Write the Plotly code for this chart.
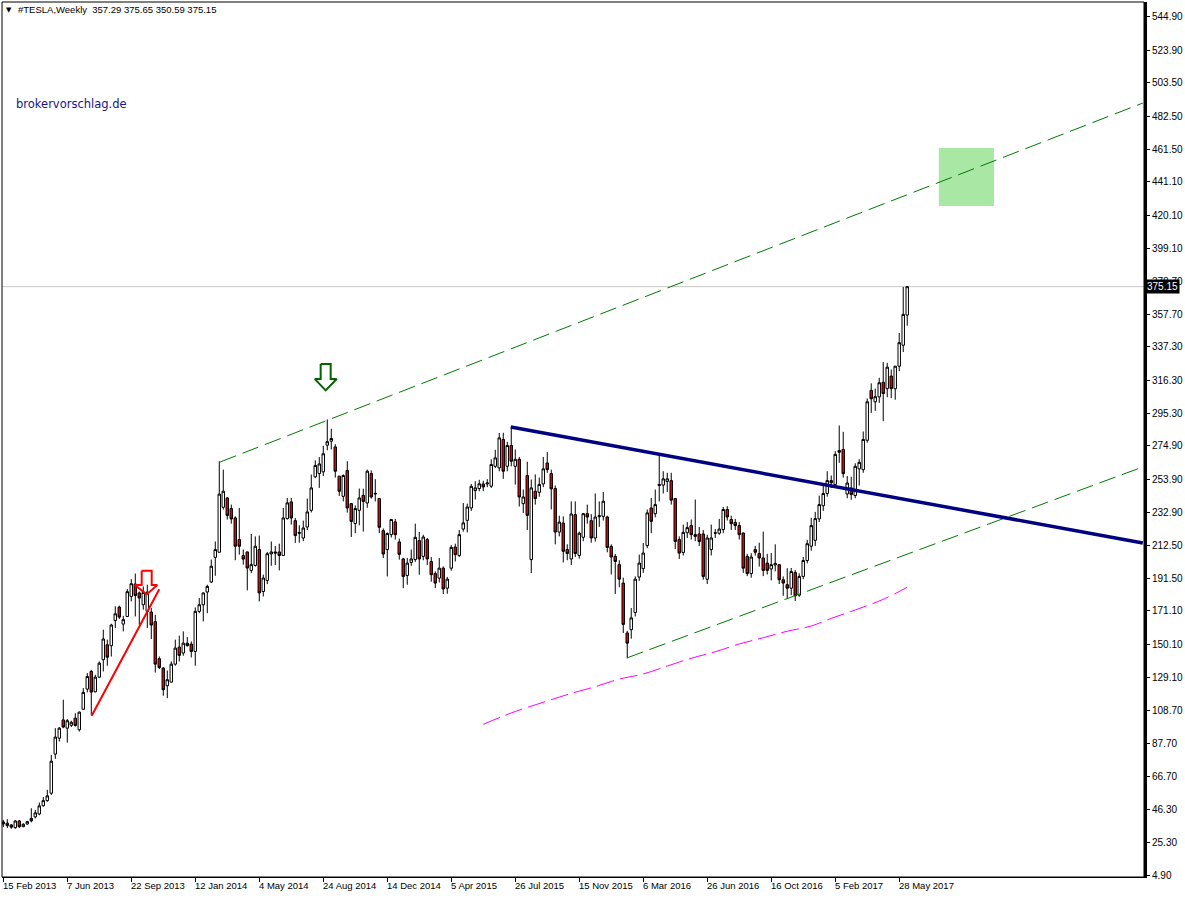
import plotly.graph_objects as go

# ---------------- data ----------------
date_labels = ["15 Feb 2013", "7 Jun 2013", "22 Sep 2013", "12 Jan 2014", "4 May 2014",
               "24 Aug 2014", "14 Dec 2014", "5 Apr 2015", "26 Jul 2015", "15 Nov 2015",
               "6 Mar 2016", "26 Jun 2016", "16 Oct 2016", "5 Feb 2017", "28 May 2017"]
date_label_bars = [0, 16, 32, 48, 64, 80, 96, 112, 128, 144, 160, 176, 192, 208, 224]

price_ticks = [4.9, 25.3, 46.3, 66.7, 87.7, 108.7, 129.1, 150.1, 171.1, 191.5, 212.5, 232.9,
               253.9, 274.9, 295.3, 316.3, 337.3, 357.7, 378.7, 399.1, 420.1, 441.1, 461.5,
               482.5, 503.5, 523.9, 544.9]

opens = [38.3, 37.5, 36.4, 34.7, 38.9, 35.3, 37.0, 40.5, 41.5, 43.3,
         48.5, 51.7, 56.4, 81.0, 91.0, 102.5, 97.3, 99.1, 103.6, 96.3,
         109.2, 121.9, 133.0, 120.2, 129.4, 140.4, 149.8, 149.2, 165.1, 173.5,
         162.8, 167.6, 180.2, 188.0, 182.4, 175.0, 170.8, 170.4, 164.3, 141.0,
         135.1, 124.0, 126.3, 137.6, 148.3, 144.6, 150.8, 150.2, 145.6, 170.8,
         175.0, 183.0, 189.3, 204.8, 208.0, 236.3, 242.2, 235.5, 229.6, 216.0,
         205.9, 208.2, 196.6, 199.7, 209.7, 183.3, 190.3, 207.0, 208.2, 208.2,
         206.0, 229.2, 239.7, 227.9, 220.5, 217.0, 223.9, 234.4, 255.5, 257.5,
         258.6, 275.4, 277.9, 274.3, 255.9, 243.2, 259.4, 238.6, 226.1, 234.4,
         243.8, 239.0, 257.5, 245.1, 241.8, 221.6, 209.7, 219.1, 227.1, 214.5,
         203.8, 193.4, 201.6, 203.4, 215.3, 205.4, 216.0, 202.2, 194.6, 191.7,
         198.0, 185.4, 198.0, 211.3, 206.0, 222.6, 228.1, 235.9, 246.8, 248.1,
         251.0, 251.0, 249.6, 262.1, 261.1, 279.0, 262.1, 275.2, 262.1, 266.5,
         238.6, 256.3, 203.4, 246.4, 245.7, 251.0, 264.2, 257.5, 248.1, 220.7,
         226.4, 209.7, 203.8, 231.7, 206.0, 217.4, 232.3, 227.9, 217.0, 230.4,
         230.6, 230.2, 211.7, 205.4, 200.2, 188.6, 157.2, 159.3, 170.1, 192.4,
         197.7, 212.2, 235.9, 232.3, 250.7, 250.3, 252.5, 253.1, 241.8, 216.0,
         207.9, 220.3, 224.8, 219.1, 219.5, 219.5, 191.0, 209.7, 220.3, 220.0,
         222.3, 234.9, 228.6, 226.8, 224.8, 220.1, 205.4, 194.6, 209.7, 207.2,
         204.4, 201.2, 197.5, 200.0, 200.2, 190.7, 187.6, 185.4, 195.3, 181.0,
         192.8, 202.8, 211.8, 215.5, 229.0, 237.3, 245.0, 253.1, 250.7, 272.0,
         272.7, 244.7, 248.5, 243.7, 260.5, 260.0, 278.5, 309.9, 302.7, 305.8,
         315.0, 311.0, 318.9, 310.9, 325.1, 338.3, 357.29]

highs = [39.6, 40.0, 37.0, 39.5, 39.5, 37.5, 39.0, 46.9, 45.8, 50.5,
         53.9, 58.5, 80.5, 97.3, 98.0, 115.2, 103.0, 102.0, 106.7, 107.8,
         122.5, 132.0, 134.0, 130.9, 139.3, 159.3, 153.0, 163.0, 174.0, 174.4,
         168.0, 184.9, 191.1, 194.6, 183.3, 186.5, 187.6, 172.9, 168.7, 142.4,
         135.7, 133.6, 139.3, 153.0, 155.5, 158.2, 154.6, 151.9, 173.3, 179.2,
         182.7, 187.6, 203.4, 214.8, 265.3, 260.0, 242.6, 238.0, 230.6, 235.9,
         209.7, 208.5, 219.5, 218.0, 218.5, 193.9, 208.2, 214.8, 212.0, 213.4,
         235.9, 242.2, 242.2, 229.6, 225.0, 227.9, 241.8, 256.9, 265.8, 267.9,
         275.0, 291.6, 285.7, 276.0, 256.0, 257.0, 265.3, 239.0, 237.5, 248.1,
         248.0, 260.0, 259.5, 254.0, 242.2, 223.0, 220.5, 229.0, 229.0, 216.6,
         204.5, 204.4, 209.7, 226.0, 220.8, 219.0, 217.0, 205.0, 196.0, 204.4,
         199.1, 192.5, 212.5, 213.4, 222.0, 239.0, 238.6, 251.0, 252.7, 253.6,
         253.0, 254.0, 266.5, 272.5, 283.1, 283.2, 277.5, 287.3, 272.7, 268.0,
         247.5, 265.0, 253.8, 257.0, 255.0, 268.0, 271.0, 260.0, 250.0, 231.0,
         230.6, 213.0, 240.0, 240.0, 221.0, 232.7, 238.0, 232.0, 245.0, 240.0,
         246.0, 231.0, 213.0, 207.0, 203.0, 192.0, 158.6, 172.9, 192.8, 206.5,
         213.8, 234.9, 242.2, 247.5, 269.6, 259.0, 258.0, 258.0, 242.0, 218.0,
         225.4, 227.0, 228.6, 241.2, 224.0, 222.0, 219.0, 225.4, 222.6, 229.0,
         236.5, 237.0, 231.0, 229.0, 227.0, 220.5, 207.0, 207.4, 212.0, 214.0,
         221.0, 207.0, 207.5, 213.0, 200.5, 192.8, 198.0, 198.1, 196.9, 194.7,
         205.0, 215.8, 229.7, 233.4, 243.6, 250.0, 259.0, 256.3, 271.6, 287.8,
         283.8, 256.0, 255.5, 264.0, 266.5, 284.0, 304.8, 314.3, 311.0, 317.8,
         327.7, 327.2, 323.0, 325.3, 346.0, 375.0, 375.65]

lows = [35.1, 34.5, 34.0, 34.0, 34.5, 35.0, 36.5, 38.0, 40.5, 42.5,
        47.9, 51.0, 55.3, 78.0, 88.9, 97.3, 88.2, 98.0, 98.3, 95.2,
        108.8, 119.8, 105.3, 119.8, 128.8, 133.0, 136.6, 142.4, 160.3, 166.0,
        158.2, 167.2, 177.1, 167.6, 162.4, 171.9, 160.3, 153.4, 132.3, 134.5,
        117.7, 116.2, 126.0, 136.6, 139.3, 142.9, 148.7, 141.8, 136.6, 169.7,
        164.5, 169.7, 188.6, 193.2, 208.0, 234.9, 228.6, 226.0, 203.0, 206.5,
        200.2, 184.0, 194.9, 199.0, 177.1, 180.2, 188.0, 199.5, 200.0, 196.6,
        206.0, 228.6, 225.4, 213.9, 214.0, 215.0, 222.0, 233.1, 254.6, 248.5,
        256.0, 272.2, 272.7, 255.0, 243.5, 240.0, 233.0, 217.6, 220.0, 225.0,
        221.0, 236.0, 241.8, 240.0, 220.0, 204.4, 192.8, 217.3, 216.0, 203.4,
        185.4, 187.6, 199.5, 202.0, 193.9, 203.0, 200.0, 189.5, 185.4, 189.0,
        181.7, 181.9, 196.4, 202.2, 205.0, 221.0, 220.5, 234.0, 241.2, 246.4,
        246.5, 249.0, 248.5, 261.0, 259.0, 254.2, 259.0, 262.1, 250.6, 236.8,
        232.7, 222.0, 194.9, 238.0, 243.0, 249.0, 258.0, 235.0, 213.0, 218.0,
        201.6, 203.0, 200.0, 205.0, 204.0, 215.0, 226.0, 214.0, 214.8, 224.0,
        228.0, 208.0, 194.0, 181.8, 186.0, 157.2, 141.3, 153.6, 167.6, 190.0,
        195.0, 210.6, 220.0, 230.0, 240.0, 245.0, 246.0, 238.0, 210.0, 203.8,
        206.0, 217.0, 216.0, 215.0, 212.0, 190.7, 188.0, 206.0, 217.0, 219.0,
        220.0, 228.0, 222.0, 222.0, 216.0, 195.0, 193.0, 192.0, 205.9, 199.0,
        193.0, 194.0, 190.3, 196.0, 188.0, 180.6, 178.5, 181.0, 177.3, 180.0,
        191.0, 201.0, 209.0, 212.0, 227.0, 234.0, 243.0, 248.5, 249.0, 264.3,
        255.0, 242.0, 241.0, 242.0, 250.0, 258.0, 277.0, 295.7, 297.0, 302.0,
        290.5, 305.6, 305.0, 304.0, 322.0, 334.0, 350.59]

closes = [37.0, 36.0, 35.0, 38.9, 35.3, 36.8, 38.5, 39.0, 44.0, 48.4,
          51.7, 54.7, 76.5, 91.7, 97.3, 98.0, 102.0, 101.0, 99.0, 107.4,
          119.8, 129.8, 120.0, 129.4, 138.2, 153.4, 142.0, 162.2, 169.3, 167.2,
          165.6, 183.2, 188.2, 180.8, 179.2, 182.7, 182.9, 162.2, 137.6, 135.5,
          121.5, 127.8, 137.6, 147.7, 143.1, 150.8, 149.2, 145.6, 170.8, 175.0,
          182.4, 186.5, 199.2, 209.7, 244.6, 246.4, 231.2, 229.0, 211.8, 211.8,
          203.7, 198.1, 200.2, 211.8, 182.4, 191.8, 207.1, 208.2, 207.5, 206.0,
          229.6, 239.1, 229.6, 218.5, 220.0, 223.3, 233.4, 248.5, 262.6, 263.6,
          270.0, 277.6, 279.6, 259.0, 246.4, 256.3, 235.9, 227.4, 235.5, 242.2,
          240.0, 259.0, 242.8, 244.8, 223.7, 206.9, 219.8, 228.6, 219.1, 206.7,
          192.8, 201.2, 203.8, 217.4, 203.8, 217.6, 203.8, 193.9, 188.6, 198.0,
          184.9, 191.1, 211.1, 206.5, 219.1, 226.5, 236.5, 249.5, 248.5, 251.1,
          249.1, 251.6, 263.2, 267.4, 280.0, 259.0, 275.2, 265.3, 266.5, 242.8,
          242.8, 231.2, 248.5, 241.8, 250.7, 260.5, 260.0, 247.9, 220.7, 227.0,
          208.6, 207.2, 232.1, 207.2, 220.0, 232.3, 230.2, 217.0, 230.2, 231.0,
          240.1, 211.0, 205.0, 202.2, 191.1, 162.6, 150.8, 166.7, 191.1, 201.2,
          207.5, 232.8, 227.5, 238.0, 250.0, 254.2, 254.2, 240.8, 214.8, 207.5,
          220.5, 223.5, 219.1, 218.0, 214.8, 192.8, 217.0, 217.0, 220.0, 222.6,
          234.9, 230.2, 226.0, 224.8, 219.1, 198.0, 194.6, 205.0, 208.0, 204.4,
          196.6, 196.6, 200.2, 201.0, 190.7, 188.6, 185.4, 195.9, 180.6, 192.8,
          202.8, 213.4, 224.8, 229.2, 238.0, 245.0, 253.1, 251.8, 269.6, 271.0,
          257.5, 251.6, 244.3, 262.1, 264.6, 279.0, 302.7, 304.6, 305.9, 314.7,
          307.9, 324.5, 311.0, 325.1, 339.9, 357.7, 375.15]

# moving average (magenta dashed)
ma_bars = [120, 127, 136, 142, 148, 154, 160, 166, 172, 178, 184, 190, 196, 202, 207, 213, 220, 226]
ma_values = [99.7, 106.9, 114.4, 119.2, 123.4, 128.2, 131.4, 136.4, 141.3, 145.4, 150.3,
             154.2, 158.3, 161.6, 166.4, 171.7, 178.4, 186.0]

# drawn trend lines (bar index, price)
upper_channel_bars = [54.2, 284.9]
upper_channel_prices = [264.8, 490.7]
lower_channel_bars = [155.9, 284.9]
lower_channel_prices = [141.5, 261.7]
resistance_bars = [126.9, 284.9]
resistance_prices = [286.8, 213.8]
red_trend_bars = [22.1, 39.0]
red_trend_prices = [105.1, 184.7]

red_arrow_bars = [34.6, 37.1, 37.1, 38.5, 35.85, 32.9, 34.6, 34.6]
red_arrow_prices = [196.4, 196.4, 187.4, 187.4, 181.5, 187.4, 187.4, 196.4]
green_arrow_bars = [79.35, 81.85, 81.85, 83.35, 80.6, 77.9, 79.35, 79.35]
green_arrow_prices = [326.5, 326.5, 317.0, 317.0, 309.9, 317.0, 317.0, 326.5]

target_box_bars = [233.9, 247.7]
target_box_prices = [425.9, 462.4]

last_price = 375.15
header_text = "#TESLA,Weekly\u00a0 357.29 375.65 350.59 375.15"
watermark = "brokervorschlag.de"

# ---------------- figure ----------------
W, H = 1185, 899
L, R, T, B = 2, 41, 2, 22
PW, PH = W - L - R, H - T - B


def fx(px):
    return (px - L) / PW


def fy(py):
    return (H - B - py) / PH


bars = list(range(len(opens)))

fig = go.Figure()

fig.add_trace(go.Candlestick(
    x=bars, open=opens, high=highs, low=lows, close=closes,
    increasing=dict(line=dict(color="black", width=1), fillcolor="white"),
    decreasing=dict(line=dict(color="black", width=1), fillcolor="#e60000"),
    whiskerwidth=0, hoverinfo="skip", showlegend=False,
))

dash_pat = "17px,7px"
fig.add_trace(go.Scatter(x=upper_channel_bars, y=upper_channel_prices, mode="lines",
                         line=dict(color="#007a00", width=1, dash=dash_pat), hoverinfo="skip"))
fig.add_trace(go.Scatter(x=lower_channel_bars, y=lower_channel_prices, mode="lines",
                         line=dict(color="#007a00", width=1, dash=dash_pat), hoverinfo="skip"))
fig.add_trace(go.Scatter(x=ma_bars, y=ma_values, mode="lines", line_shape="spline",
                         line=dict(color="#ff00ff", width=1, dash="18px,6px"), hoverinfo="skip"))
fig.add_trace(go.Scatter(x=resistance_bars, y=resistance_prices, mode="lines",
                         line=dict(color="#000080", width=3.5), hoverinfo="skip"))
fig.add_trace(go.Scatter(x=red_trend_bars, y=red_trend_prices, mode="lines",
                         line=dict(color="#ff0000", width=2), hoverinfo="skip"))
fig.add_trace(go.Scatter(x=red_arrow_bars, y=red_arrow_prices, mode="lines",
                         line=dict(color="#ff0000", width=2), hoverinfo="skip"))
fig.add_trace(go.Scatter(x=green_arrow_bars, y=green_arrow_prices, mode="lines",
                         line=dict(color="#006400", width=2), hoverinfo="skip"))

shapes = [
    dict(type="rect", xref="x", yref="y", x0=target_box_bars[0], x1=target_box_bars[1],
         y0=target_box_prices[0], y1=target_box_prices[1],
         fillcolor="#a8e8a4", line=dict(width=0), layer="below"),
    dict(type="line", xref="paper", yref="y", x0=0, x1=1, y0=last_price, y1=last_price,
         line=dict(color="#c8c8c8", width=1), layer="below"),
    dict(type="rect", xref="paper", yref="paper", x0=0, x1=1, y0=0, y1=1,
         line=dict(color="black", width=1), layer="above"),
]

annotations = []
for b, lab in zip(date_label_bars, date_labels):
    annotations.append(dict(x=b, y=0, xref="x", yref="paper", text=lab, showarrow=False,
                            xanchor="left", yanchor="top", xshift=-2, yshift=-1,
                            font=dict(family="Liberation Sans", size=9.5, color="black")))

annotations.append(dict(x=1, y=last_price, xref="paper", yref="y", text=f"{last_price:.2f}",
                        showarrow=False, xanchor="left", yanchor="middle", xshift=1,
                        bgcolor="black", borderpad=1,
                        font=dict(family="Liberation Sans", size=10, color="white")))
annotations.append(dict(x=fx(4), y=fy(10), xref="paper", yref="paper", text="\u25bc",
                        showarrow=False, xanchor="left", yanchor="middle",
                        font=dict(family="DejaVu Sans", size=7, color="black")))
annotations.append(dict(x=fx(16), y=fy(10), xref="paper", yref="paper", text=header_text,
                        showarrow=False, xanchor="left", yanchor="middle",
                        font=dict(family="Liberation Sans", size=9.5, color="black")))
annotations.append(dict(x=fx(14), y=fy(104), xref="paper", yref="paper", text=watermark,
                        showarrow=False, xanchor="left", yanchor="middle",
                        font=dict(family="DejaVu Sans", size=11.5, color="#14148c")))

fig.update_layout(
    width=W, height=H,
    margin=dict(l=L, r=R, t=T, b=B, autoexpand=False),
    paper_bgcolor="white", plot_bgcolor="white",
    showlegend=False, boxgap=0.12,
    font=dict(family="Liberation Sans", size=10, color="black"),
    shapes=shapes, annotations=annotations,
    xaxis=dict(range=[-0.325, 285.2], tickvals=date_label_bars,
               ticktext=[""] * len(date_label_bars),
               ticks="outside", ticklen=4, tickcolor="black", tickwidth=1,
               showline=True, linecolor="black", linewidth=1,
               showgrid=False, zeroline=False, rangeslider=dict(visible=False),
               fixedrange=True),
    yaxis=dict(side="right", range=[3.64, 554.3], tickvals=price_ticks,
               ticktext=[f"{v:.2f}" for v in price_ticks],
               ticks="outside", ticklen=3, tickcolor="black", tickwidth=1,
               showline=True, linecolor="black", linewidth=3,
               showgrid=False, zeroline=False, fixedrange=True,
               tickfont=dict(family="Liberation Sans", size=10, color="black")),
)

fig.write_html("out.html", config={"displayModeBar": False},
               post_script="document.body.style.margin='0px';")
